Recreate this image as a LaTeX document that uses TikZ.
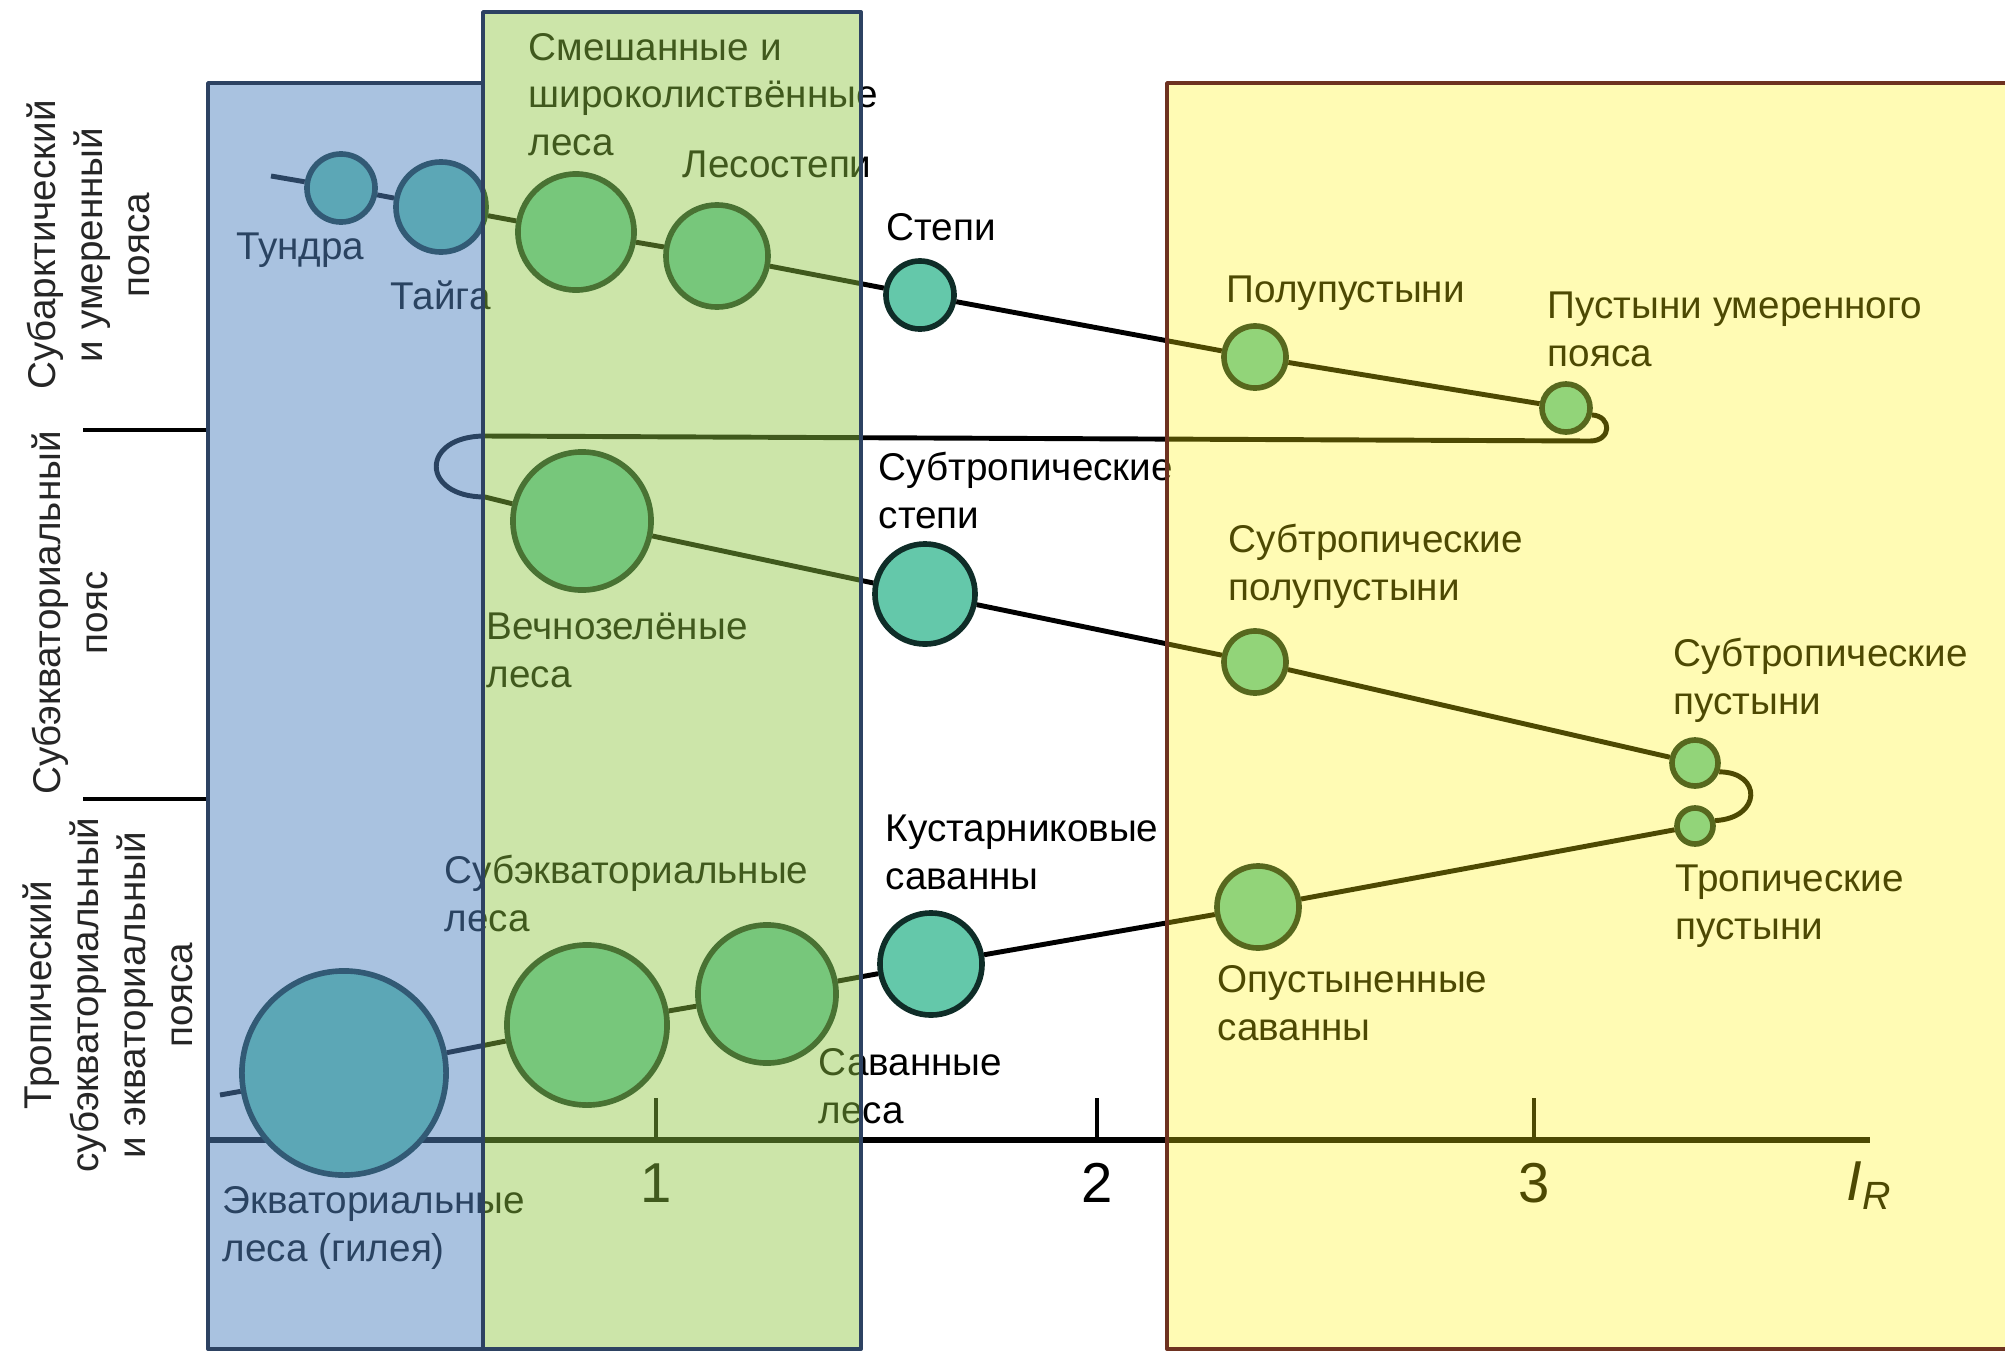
\documentclass[tikz,border=0pt]{standalone}
\usepackage{fontspec}
\setmainfont{Liberation Sans}
\definecolor{teal0}{RGB}{100,200,170}
\definecolor{tealdark}{RGB}{15,45,40}
\definecolor{ovblue}{RGB}{85,135,195}
\definecolor{ovgreen}{RGB}{144,199,66}
\definecolor{ovyellow}{RGB}{255,242,8}
\definecolor{rimblue}{RGB}{45,66,98}
\definecolor{rimbrown}{RGB}{110,50,32}
\newcommand\lblfont{\fontsize{11pt}{13.4pt}\selectfont}
\newcommand\numfont{\fontsize{16pt}{18pt}\selectfont}

\begin{document}
\begin{tikzpicture}[x=0.01cm, y=-0.01cm, line join=round,
every node/.style={inner sep=0pt},
biome/.style={circle, draw=tealdark, fill=teal0, line width=1.6pt, minimum size=#1*0.02cm},
lbl/.style={anchor=base west, align=left, font=\lblfont},
zone/.style={anchor=center, align=center, rotate=90, font=\lblfont, text=black!85},
link/.style={line width=1.4pt}]
\useasboundingbox (0,0) rectangle (2005,1354);
\fill[white] (0,0) rectangle (2005,1354);

\draw[line width=1.4pt] (83,430) -- (208,430) (83,799) -- (208,799);
\node[zone] (zoneA) at (88,245) {Субарктический\\и умеренный\\пояса};
\node[zone] (zoneB) at (70,613) {Субэкваториальный\\пояс};
\node[zone] (zoneC) at (108,995) {Тропический\\субэкваториальный\\и экваториальный\\пояса};

\coordinate (origin) at (208,1140);
\coordinate (axisend) at (1870,1140);
\draw[line width=1.6pt] (origin) -- (axisend);
\foreach \v/\x in {1/656, 2/1097, 3/1534}{
\draw[line width=1.3pt] (\x,1140) -- (\x,1098);
\node[font=\numfont] (tick\v) at (\x,1183) {\v};}
\node[font=\numfont, anchor=base west] (ir) at (1846,1200) {\textit{I}\textsubscript{\textit{R}}};

\node[biome=34] (tundra) at (341,188) {};
\node[biome=45] (taiga) at (441,207) {};
\node[biome=58] (mixed) at (576,232) {};
\node[biome=51] (foreststeppe) at (717,256) {};
\node[biome=34] (steppe) at (920,295) {};
\node[biome=31] (semidesert) at (1255,357) {};
\node[biome=24] (tempdesert) at (1566,408) {};
\node[biome=69] (evergreen) at (582,521) {};
\node[biome=50] (substeppe) at (925,594) {};
\node[biome=31] (subsemidesert) at (1255,662) {};
\node[biome=23] (subdesert) at (1695,763) {};
\node[biome=18] (tropdesert) at (1695,826) {};
\node[biome=41] (desertsavanna) at (1258,907) {};
\node[biome=51] (shrubsavanna) at (931,964) {};
\node[biome=69] (savannaforest) at (767,994) {};
\node[biome=80] (subeqforest) at (587,1025) {};
\node[biome=102] (eqforest) at (344,1073) {};

\coordinate (tundrain) at (271,176);
\coordinate (eqout) at (220,1095);
\coordinate (hookA) at (1590,441);
\coordinate (hookB) at (485,436);
\coordinate (hookC) at (485,497);
\draw[link] (tundrain) -- (tundra) -- (taiga) -- (mixed) -- (foreststeppe) -- (steppe) -- (semidesert) -- (tempdesert);
\draw[link] (tempdesert.-15) .. controls (1612,416) and (1612,441) .. (hookA) -- (hookB)
  .. controls (420,436) and (420,497) .. (hookC) -- (evergreen) -- (substeppe) -- (subsemidesert) -- (subdesert);
\draw[link] (subdesert.-20) .. controls (1762,772) and (1762,818) .. (tropdesert.15)
  (tropdesert) -- (desertsavanna) -- (shrubsavanna) -- (savannaforest) -- (subeqforest) -- (eqforest) -- (eqout);

\node[lbl] (lTundra) at (236,259) {Тундра};
\node[lbl] (lTaiga) at (390,309) {Тайга};
\node[lbl] (lMixed) at (528,155) {Смешанные и\\широколиствённые\\леса};
\node[lbl] (lForeststeppe) at (682,177) {Лесостепи};
\node[lbl] (lSteppe) at (886,240) {Степи};
\node[lbl] (lSemidesert) at (1226,302) {Полупустыни};
\node[lbl] (lTempdesert) at (1547,366) {Пустыни умеренного\\пояса};
\node[lbl] (lSubsteppe) at (878,528) {Субтропические\\степи};
\node[lbl] (lEvergreen) at (486,687) {Вечнозелёные\\леса};
\node[lbl] (lSubsemidesert) at (1228,600) {Субтропические\\полупустыни};
\node[lbl] (lSubdesert) at (1673,714) {Субтропические\\пустыни};
\node[lbl] (lShrubsavanna) at (885,889) {Кустарниковые\\саванны};
\node[lbl] (lSubeqforest) at (444,931) {Субэкваториальные\\леса};
\node[lbl] (lTropdesert) at (1675,939) {Тропические\\пустыни};
\node[lbl] (lDesertsavanna) at (1217,1040) {Опустыненные\\саванны};
\node[lbl] (lSavannaforest) at (818,1123) {Саванные\\леса};
\node[lbl] (lEqforest) at (222,1261) {Экваториальные\\леса (гилея)};

\fill[ovblue, fill opacity=.5] (208,83) rectangle (483,1349);
\fill[ovgreen, fill opacity=.45] (483,12) rectangle (861,1349);
\fill[ovyellow, fill opacity=.3] (1167,83) rectangle (2010,1349);
\draw[rimblue, line width=1.1pt] (208,83) rectangle (483,1349) (483,12) rectangle (861,1349);
\draw[rimbrown, line width=1.1pt] (2010,1349) -- (1167,1349) -- (1167,83) -- (2010,83);
\end{tikzpicture}
\end{document}
